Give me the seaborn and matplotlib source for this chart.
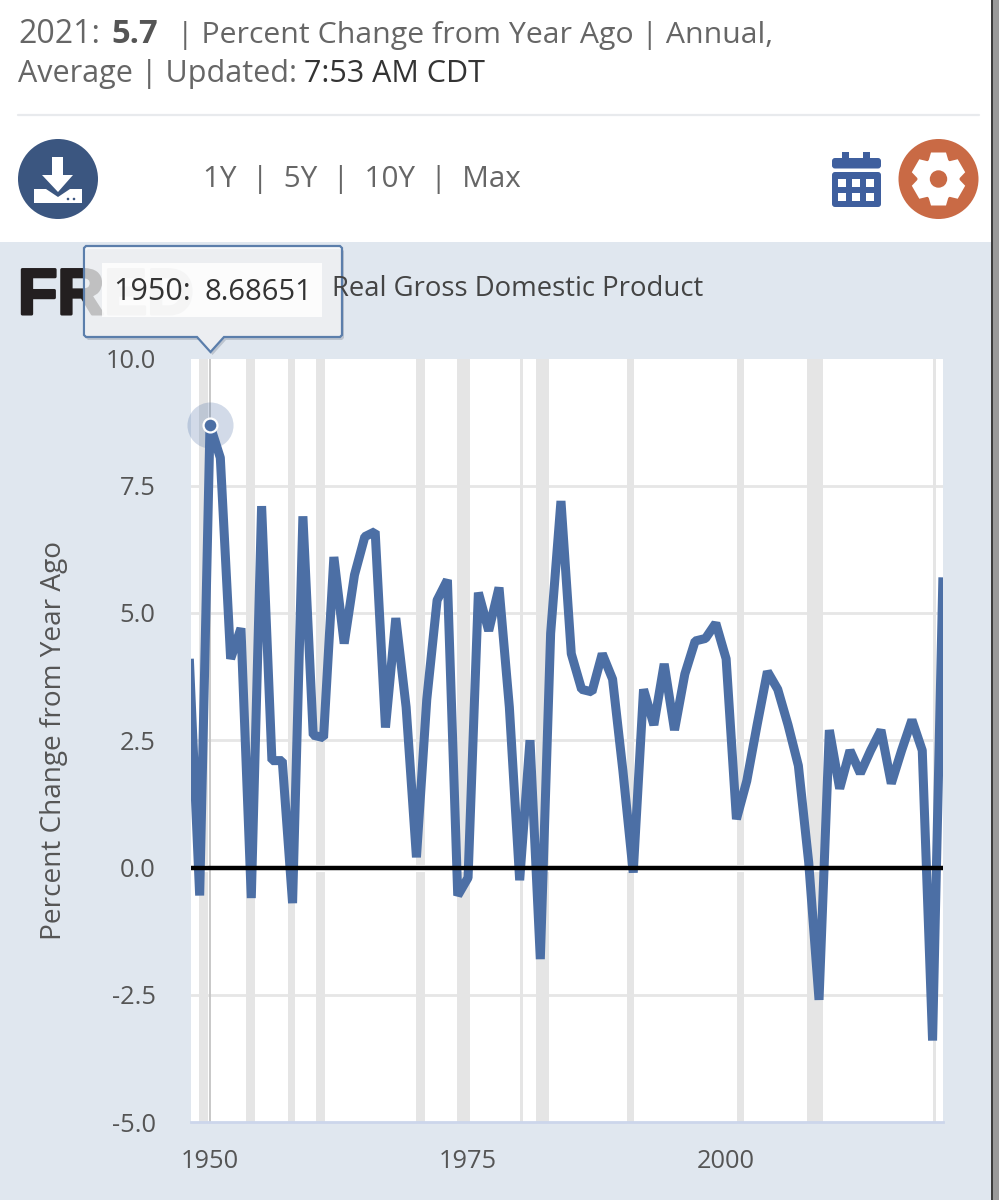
import numpy as np
import matplotlib
matplotlib.use("Agg")
import matplotlib.pyplot as plt
import matplotlib.patheffects as pe
from matplotlib.patches import Rectangle, Circle, FancyBboxPatch, Polygon
import seaborn as sns

# Annual real GDP growth, percent change from a year earlier
years = list(range(1948, 2022))
growth = [
    4.1, -0.55, 8.68651, 8.05, 4.1, 4.7, -0.6, 7.1, 2.1, 2.1,
    -0.7, 6.9, 2.6, 2.55, 6.1, 4.4, 5.75, 6.5, 6.6, 2.75,
    4.9, 3.15, 0.2, 3.3, 5.25, 5.65, -0.55, -0.2, 5.4, 4.65,
    5.5, 3.15, -0.25, 2.5, -1.8, 4.6, 7.2, 4.2, 3.5, 3.45,
    4.2, 3.7, 1.9, -0.1, 3.5, 2.8, 4.0, 2.7, 3.8, 4.45,
    4.5, 4.8, 4.1, 0.95, 1.7, 2.8, 3.85, 3.5, 2.8, 2.0,
    0.1, -2.6, 2.7, 1.55, 2.3, 1.85, 2.3, 2.7, 1.65, 2.3,
    2.9, 2.3, -3.4, 5.7,
]
# Recession spans in fractional years
recession_start = [1948.92, 1953.48, 1957.55, 1960.31, 1970.0, 1973.89,
                   1980.03, 1981.55, 1990.38, 2001.06, 2007.84, 2020.05]
recession_end = [1949.8, 1954.36, 1958.23, 1961.18, 1970.87, 1975.18,
                 1980.37, 1982.84, 1991.06, 2001.74, 2009.39, 2020.3]
y_ticks = [-5.0, -2.5, 0.0, 2.5, 5.0, 7.5, 10.0]
x_ticks = [1950, 1975, 2000]
highlight_year = 1950
highlight_value = 8.68651

BLUE = "#4c6fa5"
PANEL = "#e0e7ef"
GREY = "#666666"
SANS = ["Open Sans", "DejaVu Sans"]

W, H = 999, 1200
sns.set_style("white")
plt.rcParams["font.family"] = SANS
fig = plt.figure(figsize=(W / 100, H / 100), dpi=100, facecolor="white")


def pixel_box(left, top, right, bottom):
    return [left / W, 1 - bottom / H, (right - left) / W, (bottom - top) / H]


# Page furniture behind the chart
back = fig.add_axes([0, 0, 1, 1], zorder=0)
back.set_xlim(0, W)
back.set_ylim(H, 0)
back.axis("off")
back.add_patch(Rectangle((0, 242), 991, 958, color=PANEL, lw=0))
back.add_patch(Rectangle((993, 0), 6, H, color="#9a9a9a", lw=0))
back.add_patch(Rectangle((990.8, 0), 2.4, H, color="#3c3c3c", lw=0))

# Chart area
ax = fig.add_axes(pixel_box(191, 358.5, 943, 1122), zorder=1, facecolor="white")
ax.set_xlim(1948.16, 2021.01)
ax.set_ylim(-5, 10)
ax.set_yticks(y_ticks)
ax.set_xticks(x_ticks)
ax.set_yticklabels([f"{v:.1f}" for v in y_ticks])
ax.set_xticklabels([str(v) for v in x_ticks])
ax.grid(False)
for v in y_ticks:
    if v not in (0.0, -5.0, 10.0):
        ax.axhline(v, color="#e6e6e6", lw=2.0, zorder=1)
for a, b in zip(recession_start, recession_end):
    ax.axvspan(a, b, facecolor="#e5e5e5", lw=0, zorder=1.5)
ax.axhline(0, color="white", lw=5.2, zorder=1.8)
ax.axvline(highlight_year, color="#c4c4c4", lw=1.3, zorder=2)

sns.lineplot(x=years, y=growth, ax=ax, color=BLUE, lw=6.5, estimator=None,
             solid_joinstyle="bevel", solid_capstyle="butt", zorder=3)
ax.axhline(0, color="black", lw=3.2, zorder=4)

# Hovered point: soft halo, white ring, solid dot
ax.scatter([highlight_year], [highlight_value], s=1100, color=BLUE, alpha=0.25,
           lw=0, zorder=5, clip_on=False)
ax.scatter([highlight_year], [highlight_value], s=100, color=BLUE,
           edgecolor="white", lw=1.6, zorder=6, clip_on=False)

for side in ("top", "left", "right"):
    ax.spines[side].set_visible(False)
ax.spines["bottom"].set_color("#ccd6eb")
ax.spines["bottom"].set_linewidth(2)
ax.tick_params(axis="y", length=0, pad=25.5, labelsize=18.3, labelcolor="#555555")
ax.tick_params(axis="x", length=16.5, width=1, color="#ccd6eb", pad=3,
               labelsize=18.3, labelcolor="#555555")
ax.set_ylabel("Percent Change from Year Ago", fontsize=20.2, color="#555555", va="center")
ax.yaxis.set_label_coords((54 - 191) / 752, (1122 - 740) / 763.5)

# Overlay for the header, logo and tooltip
ui = fig.add_axes([0, 0, 1, 1], zorder=2)
ui.set_xlim(0, W)
ui.set_ylim(H, 0)
ui.axis("off")
ui.patch.set_alpha(0)


def label(x, y, content, size, color=GREY, weight="normal", zorder=5):
    ui.text(x, y, content, fontsize=size, color=color, fontweight=weight,
            va="baseline", ha="left", zorder=zorder)


# Header lines
label(18, 43, "2021:", 23)
label(111, 43, "5.7", 23.5, color="#555555", weight="bold")
label(177, 43, "| Percent Change from Year Ago | Annual,", 21.8)
label(18, 82, "Average | Updated:", 22)
label(304, 82, "7:53 AM CDT", 22, color="#333333")
ui.plot([18, 979], [115, 115], color="#e8eaed", lw=1.6)
label(203, 187, "1Y  |  5Y  |  10Y  |  Max", 21.3)

# Download button
ui.add_patch(Circle((58, 179), 40, color="#3b5680", lw=0))
ui.add_patch(Polygon([(52, 157), (63, 157), (63, 175), (73, 175), (58, 192), (42, 175), (52, 175)],
                     color="white", lw=0))
ui.add_patch(Polygon([(34, 189), (46, 189), (58, 197), (70, 189), (82, 189), (82, 203), (34, 203)],
                     color="white", lw=0))
ui.add_patch(Circle((68, 199), 1.3, color="#3b5680", lw=0))
ui.add_patch(Circle((74, 199), 1.3, color="#3b5680", lw=0))

# Calendar button
CAL = "#3f5f9e"
ui.add_patch(FancyBboxPatch((832, 158), 49, 10.5, boxstyle="round,pad=0,rounding_size=3", color=CAL, lw=0))
ui.add_patch(FancyBboxPatch((832, 172), 49, 35, boxstyle="round,pad=0,rounding_size=3", color=CAL, lw=0))
ui.add_patch(Rectangle((842, 152), 7, 8, color=CAL, lw=0))
ui.add_patch(Rectangle((863, 152), 7, 8, color=CAL, lw=0))
for cy in (183, 197):
    for cx in (842, 856, 870):
        ui.add_patch(Rectangle((cx - 4, cy - 4), 8, 8, color="white", lw=0))

# Settings button: six-toothed cog
RUST = "#c96a45"
ui.add_patch(Circle((938.5, 179), 40, color=RUST, lw=0))
cog_angles = np.arange(6) * np.pi / 3 - np.pi / 2
ui.add_patch(Circle((938.5, 179), 21, color="white", lw=0))
for ang in cog_angles:
    ca, sa = np.cos(ang), np.sin(ang)
    corners = [(-10, 18), (10, 18), (7.5, 26.5), (-7.5, 26.5)]
    ui.add_patch(Polygon([(938.5 + r * ca - t * sa, 179 + r * sa + t * ca) for t, r in corners],
                         color="white", lw=0))
ui.add_patch(Circle((938.5, 179), 8.7, color=RUST, lw=0))

# Logo and series title
ui.text(18, 314, "FRED", fontsize=46.5, fontweight="bold", color="#231f20",
        family=["Liberation Sans"], va="baseline", ha="left", zorder=0.5,
        path_effects=[pe.withStroke(linewidth=2.2, foreground="#231f20")])
label(332, 296, "Real Gross Domestic Product", 19.85, color="#444444")

# Tooltip with pointer, over a drop shadow
outline = [(86, 246), (340, 246), (342, 248), (342, 335), (340, 337), (224, 337),
           (210.5, 352), (197, 337), (86, 337), (84, 335), (84, 248)]
ui.add_patch(Polygon([(x + 2, y + 3) for x, y in outline], closed=True,
                     facecolor="#1a2a40", alpha=0.18, lw=0, zorder=1))
ui.add_patch(Polygon(outline, closed=True, facecolor="white", alpha=0.72, lw=0, zorder=1.1))
ui.add_patch(Polygon(outline, closed=True, fill=False, edgecolor="#5b7eab", lw=1.6, zorder=1.2))
ui.add_patch(Rectangle((102, 263), 220, 54, facecolor="white", alpha=0.85, lw=0, zorder=1.3))
label(113, 300, "1950:", 22, color="#333333")
label(205, 300, "8.68651", 21, color="#333333")

fig.savefig("out.png", dpi=100, facecolor="white")
